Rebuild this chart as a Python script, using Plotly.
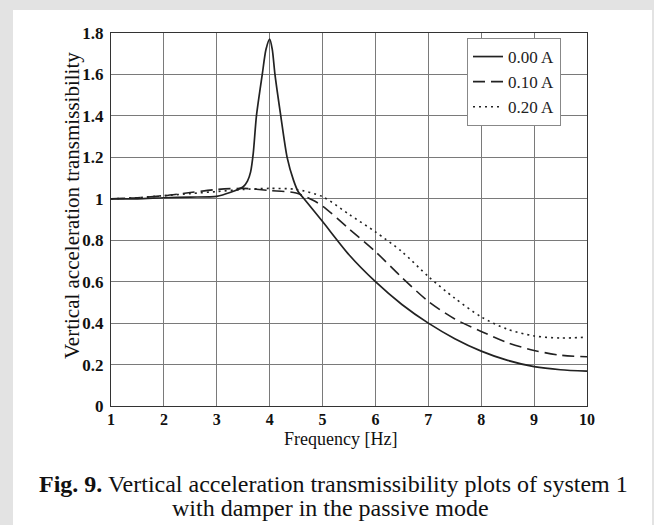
import plotly.graph_objects as go

# ---- data ----
freq_000 = [1, 1.5, 2, 2.5, 3, 3.25, 3.5, 3.58, 3.64, 3.69, 3.75, 3.86, 3.93, 4.0, 4.05, 4.10,
            4.21, 4.33, 4.45, 4.54, 4.65, 5, 5.5, 6, 6.5, 7, 7.5, 8, 8.5, 9, 9.5, 10]
trans_000 = [1.0, 1.0, 1.005, 1.008, 1.012, 1.03, 1.058, 1.085, 1.13, 1.22, 1.4, 1.6, 1.72, 1.77, 1.72, 1.6,
             1.4, 1.2, 1.09, 1.034, 1.0, 0.89, 0.73, 0.60, 0.49, 0.40, 0.325, 0.265, 0.22, 0.19, 0.175, 0.168]

freq_010 = [1, 1.5, 2, 2.5, 3, 3.5, 4, 4.5, 4.8, 5, 5.5, 6, 6.5, 7, 7.5, 8, 8.5, 9, 9.5, 10]
trans_010 = [1.0, 1.005, 1.015, 1.03, 1.045, 1.05, 1.04, 1.028, 0.995, 0.965, 0.855, 0.745, 0.62,
             0.505, 0.42, 0.36, 0.305, 0.268, 0.245, 0.238]

freq_020 = [1, 1.5, 2, 2.5, 3, 3.5, 4, 4.5, 5, 5.5, 6, 6.5, 7, 7.5, 8, 8.5, 9, 9.5, 10]
trans_020 = [1.0, 1.005, 1.015, 1.025, 1.035, 1.045, 1.05, 1.045, 1.01, 0.925, 0.84, 0.745, 0.625,
             0.52, 0.43, 0.37, 0.338, 0.328, 0.332]

series_names = ["0.00 A", "0.10 A", "0.20 A"]
x_ticks = [1, 2, 3, 4, 5, 6, 7, 8, 9, 10]
y_ticks = [0, 0.2, 0.4, 0.6, 0.8, 1, 1.2, 1.4, 1.6, 1.8]
y_tick_text = ["0", "0.2", "0.4", "0.6", "0.8", "1", "1.2", "1.4", "1.6", "1.8"]

FONT = "Liberation Serif, Times New Roman, serif"
LINE = "#222222"
BG = "#e3e3e3"

fig = go.Figure()
fig.add_trace(go.Scatter(x=freq_000, y=trans_000, mode="lines", name=series_names[0],
                         line=dict(color=LINE, width=1.7, dash="solid", shape="spline", smoothing=0.7)))
fig.add_trace(go.Scatter(x=freq_010, y=trans_010, mode="lines", name=series_names[1],
                         line=dict(color=LINE, width=1.6, dash="12px,6px", shape="spline", smoothing=0.8)))
fig.add_trace(go.Scatter(x=freq_020, y=trans_020, mode="lines", name=series_names[2],
                         line=dict(color=LINE, width=1.6, dash="2px,4px", shape="spline", smoothing=0.8)))

# plot area in pixels: x 111..587, y 33..406
L, R, T, B = 111, 587, 33, 406
W, H = 654, 525
pw, ph = R - L, B - T

def px(xp):
    return (xp - L) / pw

def py(yp):
    return (B - yp) / ph

fig.add_shape(type="rect", xref="paper", yref="paper",
              x0=px(13), x1=px(652), y0=py(540), y1=py(10),
              fillcolor="white", line=dict(width=0), layer="below")

fig.update_layout(
    width=W, height=H,
    margin=dict(l=L, r=W - R, t=T, b=H - B, pad=0),
    paper_bgcolor=BG,
    plot_bgcolor="white",
    showlegend=True,
    legend=dict(x=px(467), y=py(38), xanchor="left", yanchor="top",
                bgcolor="white", bordercolor="#888", borderwidth=1,
                font=dict(family=FONT, size=17, color="#222"),
                itemwidth=30, tracegroupgap=0),
    font=dict(family=FONT, color="#111"),
)

fig.update_xaxes(range=[1, 10], tickvals=x_ticks, ticktext=[str(v) for v in x_ticks],
                 showgrid=True, gridcolor="#7a7a7a", gridwidth=1,
                 showline=True, linecolor="#333", linewidth=1, mirror=True,
                 ticks="", zeroline=False, ticklabelstandoff=-1,
                 tickfont=dict(family=FONT, size=16, color="#111", weight="bold"))
fig.update_yaxes(range=[0, 1.8], tickvals=y_ticks, ticktext=y_tick_text,
                 showgrid=True, gridcolor="#7a7a7a", gridwidth=1,
                 showline=True, linecolor="#333", linewidth=1, mirror=True,
                 ticks="", zeroline=False, ticklabelstandoff=3,
                 tickfont=dict(family=FONT, size=17, color="#111", weight="bold"))

# axis titles
fig.add_annotation(text="Frequency [Hz]", xref="paper", yref="paper",
                   x=px(340), y=py(439), xanchor="center", yanchor="middle",
                   showarrow=False, font=dict(family=FONT, size=18, color="#111"))
fig.add_annotation(text="Vertical acceleration transmissibility", xref="paper", yref="paper",
                   x=px(72), y=py(206), xanchor="center", yanchor="middle", textangle=-90,
                   showarrow=False, font=dict(family=FONT, size=21, color="#111"))

# caption
fig.add_annotation(text="<b>Fig. 9.</b> Vertical acceleration transmissibility plots of system 1",
                   xref="paper", yref="paper", x=px(333), y=py(484),
                   xanchor="center", yanchor="middle", showarrow=False,
                   font=dict(family=FONT, size=24, color="#111"))
fig.add_annotation(text="with damper in the passive mode",
                   xref="paper", yref="paper", x=px(330), y=py(508),
                   xanchor="center", yanchor="middle", showarrow=False,
                   font=dict(family=FONT, size=24, color="#111"))

fig.write_html("out.html", config={"displayModeBar": False},
               post_script="document.body.style.margin='0';document.body.style.background='%s';" % BG)
